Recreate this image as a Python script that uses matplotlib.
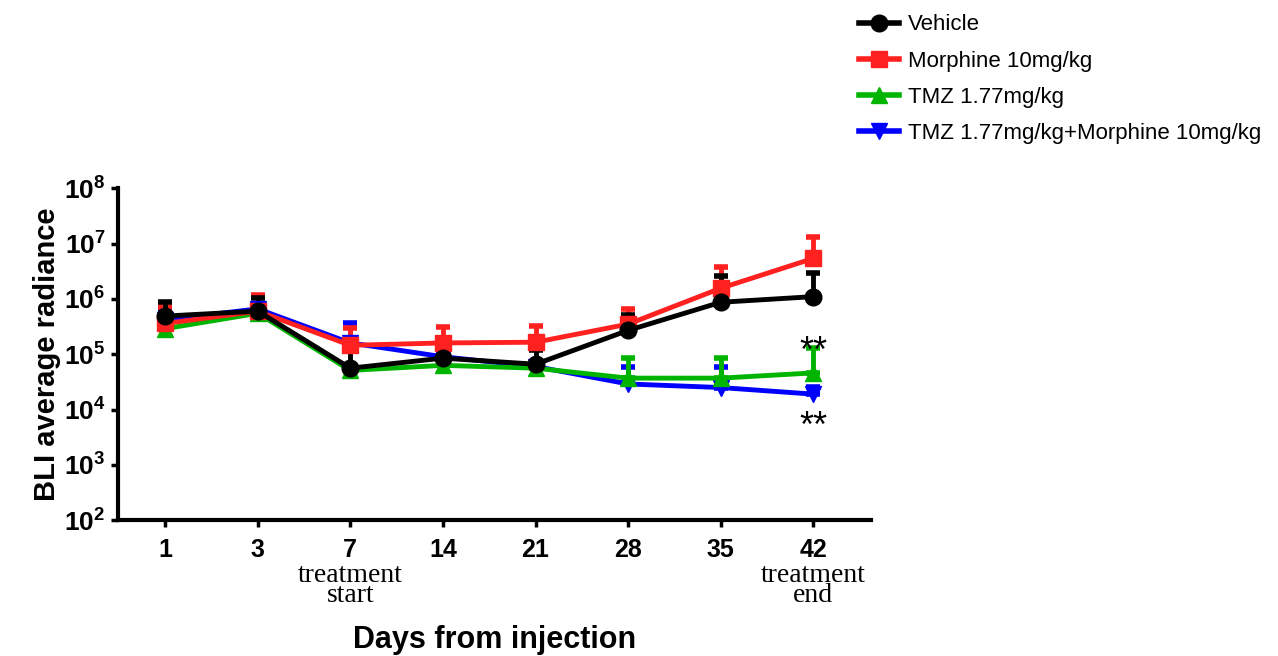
import numpy as np
import matplotlib.pyplot as plt
from matplotlib.lines import Line2D

plt.rcParams['font.family'] = ['Liberation Sans', 'DejaVu Sans']
plt.rcParams['mathtext.fontset'] = 'custom'
plt.rcParams['mathtext.rm'] = 'Liberation Sans:bold'
plt.rcParams['mathtext.bf'] = 'Liberation Sans:bold'

days = ['1', '3', '7', '14', '21', '28', '35', '42']

vehicle = [4.9e5, 6.0e5, 5.6e4, 8.5e4, 6.6e4, 2.7e5, 8.7e5, 1.1e6]
vehicle_hi = [8.7e5, 1.05e6, 1.2e5, 1.5e5, 1.2e5, 5.2e5, 2.6e6, 3.0e6]
morphine = [3.6e5, 6.0e5, 1.45e5, 1.6e5, 1.65e5, 3.5e5, 1.56e6, 5.4e6]
morphine_hi = [7.0e5, 1.2e6, 3.0e5, 3.1e5, 3.3e5, 6.5e5, 3.7e6, 1.3e7]
tmz = [2.9e5, 5.5e5, 5.1e4, 6.3e4, 5.6e4, 3.7e4, 3.7e4, 4.6e4]
tmz_hi = [3.5e5, 7.0e5, 6.0e4, 7.5e4, 6.5e4, 8.7e4, 8.7e4, 1.3e5]
combo = [4.2e5, 6.6e5, 1.6e5, 9.0e4, 6.0e4, 2.9e4, 2.5e4, 1.9e4]
combo_hi = [6.0e5, 8.0e5, 3.6e5, 1.1e5, 7.0e4, 6.0e4, 6.0e4, 2.6e4]

series = [
    ('Vehicle', vehicle, vehicle_hi, 'black', 'o'),
    ('Morphine 10mg/kg', morphine, morphine_hi, '#ff2020', 's'),
    ('TMZ 1.77mg/kg', tmz, tmz_hi, '#00b400', '^'),
    ('TMZ 1.77mg/kg+Morphine 10mg/kg', combo, combo_hi, '#0000ff', 'v'),
]

fig = plt.figure(figsize=(12.78, 6.56), dpi=100)
ax = fig.add_axes([0.0923, 0.207, 0.589, 0.506])
x = np.arange(len(days))

# draw back to front so black ends up on top
for name, vals, hi, col, mk in reversed(series):
    vals = np.array(vals)
    err = [np.zeros_like(vals), np.array(hi) - vals]
    ax.errorbar(x, vals, yerr=err, color=col, marker=mk, markersize=12,
                lw=3.5, elinewidth=3.5, capsize=5, capthick=4)

ax.set_yscale('log')
ax.set_ylim(1e2, 1e8)
ax.set_xlim(-0.51, 7.62)
ax.set_yticks([10.0**k for k in range(2, 9)])
ax.set_yticklabels([r'$\mathbf{10^{%d}}$' % k for k in range(2, 9)], fontsize=19)
ax.minorticks_off()
ax.set_xticks(x)
ax.set_xticklabels(days, fontsize=18, fontweight='bold')
for s in ['top', 'right']:
    ax.spines[s].set_visible(False)
for s in ['left', 'bottom']:
    ax.spines[s].set_linewidth(3)
ax.tick_params(width=2.5, length=5, pad=8)
ax.tick_params(axis='y', pad=4)

ax.set_ylabel('BLI average radiance', fontsize=21, fontweight='bold', labelpad=2)
ax.set_xlabel('Days from injection', fontsize=22, fontweight='bold', labelpad=45)

for xi, txt in [(2, 'treatment\nstart'), (7, 'treatment\nend')]:
    ax.text(xi, -0.13, txt, transform=ax.get_xaxis_transform(), ha='center', va='top',
            fontsize=20, family='Liberation Serif', linespacing=0.7)

ax.text(7, 1.08e5, '**', ha='center', va='center', fontsize=26)
ax.text(7, 4.8e3, '**', ha='center', va='center', fontsize=26)

handles = [Line2D([], [], color=col, marker=mk, markersize=12, lw=4)
           for name, vals, hi, col, mk in series]
labels = [s[0] for s in series]
fig.legend(handles, labels, loc='upper left', bbox_to_anchor=(0.672, 0.978), frameon=False,
           borderpad=0, borderaxespad=0, fontsize=16, handlelength=1.8,
           handletextpad=0.4, labelspacing=0.68)

fig.savefig('out.png', dpi=100)
